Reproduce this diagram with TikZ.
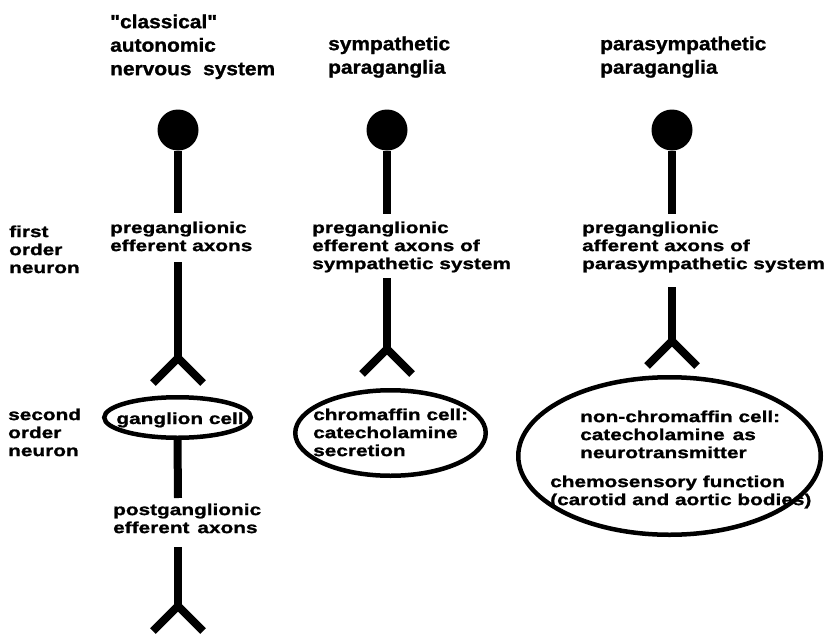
\documentclass[tikz,border=0pt]{standalone}
\usepackage{fontspec}
\usetikzlibrary{shapes.geometric}
\newfontfamily\lblfont{Liberation Sans Bold}[FakeStretch=1.3,FakeBold=1.2]
\newfontfamily\ttlfont{Liberation Sans Bold}[FakeStretch=1.1,FakeBold=1.2]
\tikzset{
  lbl/.style={font=\lblfont\fontsize{16}{18}\selectfont, anchor=north west, inner sep=0pt, align=left},
  ttl/.style={font=\ttlfont\fontsize{19}{23.5}\selectfont, anchor=north west, inner sep=0pt, align=left},
  ctxt/.style={font=\lblfont\fontsize{16}{18}\selectfont, anchor=base, inner sep=0pt},
  axon/.style={line width=8pt},
  forkline/.style={line width=8pt, line join=miter},
  soma/.style={circle, fill=black, minimum size=41pt, inner sep=0pt},
  cell/.style={ellipse, draw, line width=4.5pt, inner sep=0pt}
}
\begin{document}
\begin{tikzpicture}[x=1pt,y=-1pt]
\useasboundingbox (0,0) rectangle (829,634);
% titles
\node[ttl] (t1) at (110,14.2) {"classical"\\autonomic\\nervous\ \ system};
\node[ttl] (t2) at (328,36.2) {sympathetic\\paraganglia};
\node[ttl] (t3) at (600,36.2) {parasympathetic\\paraganglia};
% row labels
\node[lbl] (r1) at (9,225.3) {first\\order\\neuron};
\node[lbl] (r2) at (8,408.3) {second\\order\\neuron};
% somata
\node[soma] (s1) at (178,130) {};
\node[soma] (s2) at (387,130) {};
\node[soma] (s3) at (672,130) {};
% column 1
\coordinate (a1) at (178,213);
\coordinate (b1) at (178,262);
\coordinate (f1) at (178,358);
\node[lbl] (p1) at (110,221.3) {preganglionic\\efferent axons};
\draw[axon] (s1) -- (a1);
\draw[axon] (b1) -- (f1);
\coordinate (f1l) at (153,383);
\coordinate (f1r) at (203,383);
\draw[forkline] (f1l) -- (f1) -- (f1r);
\node[cell, minimum width=146.5pt, minimum height=40.5pt] (e1) at (177.5,417.5) {};
\node[ctxt] (g1) at (180,424) {ganglion cell};
\coordinate (c1) at (178,498);
\coordinate (d1) at (178,547);
\coordinate (h1) at (178,606);
\draw[axon] (e1.south) -- (c1);
\node[lbl] (q1) at (113,503.3) {postganglionic\\efferent\enspace axons};
\draw[axon] (d1) -- (h1);
\coordinate (h1l) at (153,631);
\coordinate (h1r) at (203,631);
\draw[forkline] (h1l) -- (h1) -- (h1r);
% column 2
\coordinate (a2) at (387,214);
\coordinate (b2) at (387,278);
\coordinate (f2) at (387,349);
\node[lbl] (p2) at (312,221.3) {preganglionic\\efferent axons of\\sympathetic system};
\draw[axon] (s2) -- (a2);
\draw[axon] (b2) -- (f2);
\coordinate (f2l) at (362,374);
\coordinate (f2r) at (412,374);
\draw[forkline] (f2l) -- (f2) -- (f2r);
\node[cell, minimum width=190.5pt, minimum height=85.5pt] (e2) at (390.5,433) {};
\node[lbl] (g2) at (313,408.3) {chromaffin cell:\\catecholamine\\secretion};
% column 3
\coordinate (a3) at (672,214);
\coordinate (b3) at (672,287);
\coordinate (f3) at (672,341);
\node[lbl] (p3) at (582,221.3) {preganglionic\\afferent axons of\\parasympathetic system};
\draw[axon] (s3) -- (a3);
\draw[axon] (b3) -- (f3);
\coordinate (f3l) at (647,366);
\coordinate (f3r) at (697,366);
\draw[forkline] (f3l) -- (f3) -- (f3r);
\node[cell, minimum width=302.5pt, minimum height=157.5pt] (e3) at (669.5,456) {};
\node[lbl] (g3) at (580,410.3) {non-chromaffin cell:\\catecholamine\enspace as\\neurotransmitter};
\node[lbl] (g4) at (550,475.3) {chemosensory function\\(carotid and aortic bodies)};
\end{tikzpicture}
\end{document}
